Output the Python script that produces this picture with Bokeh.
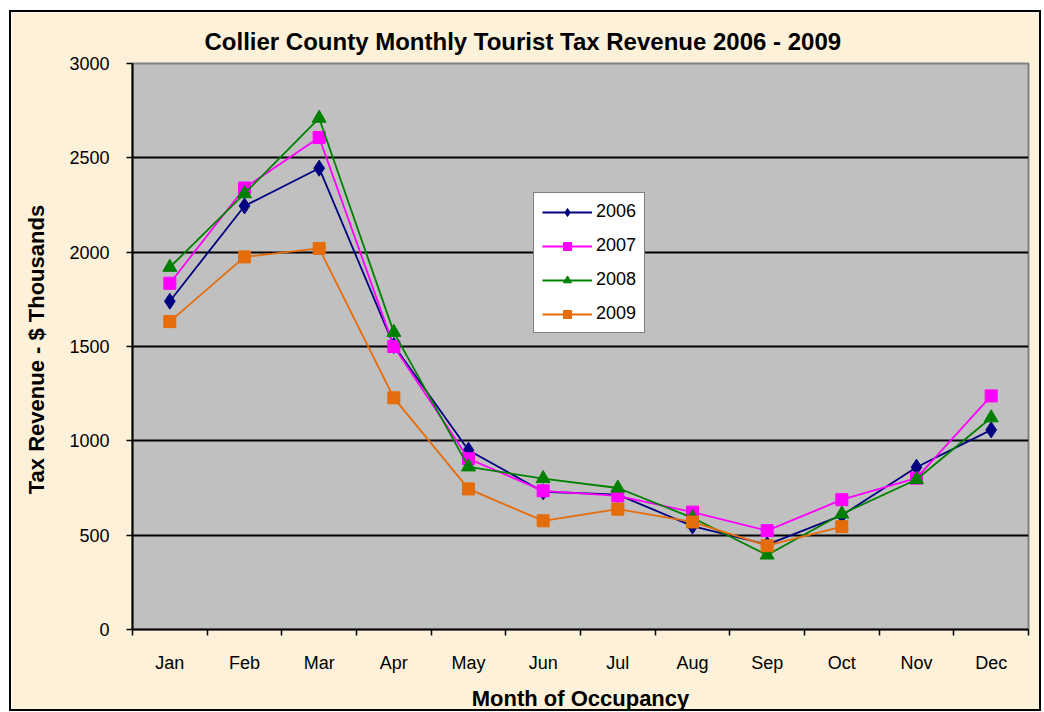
from bokeh.plotting import figure
from bokeh.models import FixedTicker, Legend, LegendItem, Range1d
from bokeh.embed import file_html
from bokeh.resources import INLINE

months = ["Jan", "Feb", "Mar", "Apr", "May", "Jun", "Jul", "Aug", "Sep", "Oct", "Nov", "Dec"]
rev_2006 = [1740, 2245, 2445, 1505, 950, 730, 715, 548, 450, 605, 860, 1058]
rev_2007 = [1835, 2340, 2608, 1500, 905, 735, 708, 622, 524, 688, 802, 1238]
rev_2008 = [1920, 2310, 2710, 1575, 862, 800, 750, 592, 395, 612, 795, 1122]
rev_2009 = [1632, 1975, 2020, 1228, 745, 576, 638, 570, 444, 545]
y_ticks = [0, 500, 1000, 1500, 2000, 2500, 3000]

FONT = "Liberation Sans"

p = figure(width=1032, height=701, output_backend="svg", toolbar_location=None,
           x_range=Range1d(0, len(months)), y_range=Range1d(0, 3000))
p.min_border_left = 121
p.min_border_right = 15
p.min_border_top = 51
p.min_border_bottom = 78
p.border_fill_color = "#FDF1DA"
p.background_fill_color = "#C0C0C0"
p.outline_line_color = "#808080"
p.outline_line_width = 2
p.styles = {"border": "2px solid black", "box-sizing": "border-box",
            "margin-left": "9px", "margin-top": "10px"}

p.title.text = "Collier County Monthly Tourist Tax Revenue 2006 - 2009"
p.title.align = "left"
p.title.text_font = FONT
p.title.text_font_size = "24px"
p.title.text_font_style = "bold"
p.title.text_color = "black"
p.title.offset = 72
p.title.standoff = 18

# x axis: labels at category centres, ticks at boundaries
xa = p.xaxis[0]
xa.ticker = FixedTicker(ticks=[i + 0.5 for i in range(len(months))],
                        minor_ticks=list(range(len(months) + 1)))
xa.major_label_overrides = {i + 0.5: m for i, m in enumerate(months)}
xa.major_tick_out = 0
xa.major_tick_in = 0
xa.minor_tick_out = 6
xa.minor_tick_in = 0
xa.minor_tick_line_color = "black"
xa.minor_tick_line_width = 1.5
xa.axis_line_color = "black"
xa.axis_line_width = 2
xa.major_label_text_font = FONT
xa.major_label_text_font_size = "18px"
xa.major_label_text_color = "black"
xa.major_label_standoff = 17
xa.axis_label = "Month of Occupancy"
xa.axis_label_text_font = FONT
xa.axis_label_text_font_size = "22px"
xa.axis_label_text_font_style = "bold"
xa.axis_label_text_color = "black"
xa.axis_label_standoff = 10

ya = p.yaxis[0]
ya.ticker = FixedTicker(ticks=y_ticks, minor_ticks=[])
ya.major_tick_out = 6
ya.major_tick_in = 0
ya.major_tick_line_color = "black"
ya.major_tick_line_width = 1.5
ya.axis_line_color = "black"
ya.axis_line_width = 2
ya.major_label_text_font = FONT
ya.major_label_text_font_size = "18px"
ya.major_label_text_color = "black"
ya.major_label_standoff = 17
ya.axis_label = "Tax Revenue  - $ Thousands"
ya.axis_label_text_font = FONT
ya.axis_label_text_font_size = "22px"
ya.axis_label_text_font_style = "bold"
ya.axis_label_text_color = "black"
ya.axis_label_standoff = 17

p.xgrid.grid_line_color = None
p.ygrid.grid_line_color = "black"
p.ygrid.grid_line_width = 2
p.ygrid.ticker = FixedTicker(ticks=y_ticks)

series = [
    ("2006", rev_2006, "#000080", "diamond", 16),
    ("2007", rev_2007, "#FF00FF", "square", 12),
    ("2008", rev_2008, "#008000", "triangle", 14),
    ("2009", rev_2009, "#E46C0A", "square", 12),
]
items = []
for name, vals, col, mk, sz in series:
    xs = [i + 0.5 for i in range(len(vals))]
    r1 = p.line(xs, vals, line_color=col, line_width=1.8)
    r2 = p.scatter(xs, vals, marker=mk, size=sz, fill_color=col, line_color=col)
    items.append(LegendItem(label=name, renderers=[r1, r2]))

legend = Legend(items=items, location=(401, 296))
legend.background_fill_color = "white"
legend.background_fill_alpha = 1
legend.border_line_color = "black"
legend.border_line_width = 1.5
legend.label_text_font = FONT
legend.label_text_font_size = "18px"
legend.label_text_color = "black"
legend.glyph_width = 50
legend.glyph_height = 20
legend.label_height = 20
legend.spacing = 13
legend.padding = 8
legend.margin = 0
legend.label_standoff = 4
p.add_layout(legend, "center")

open("out.html", "w").write(file_html(p, INLINE))
